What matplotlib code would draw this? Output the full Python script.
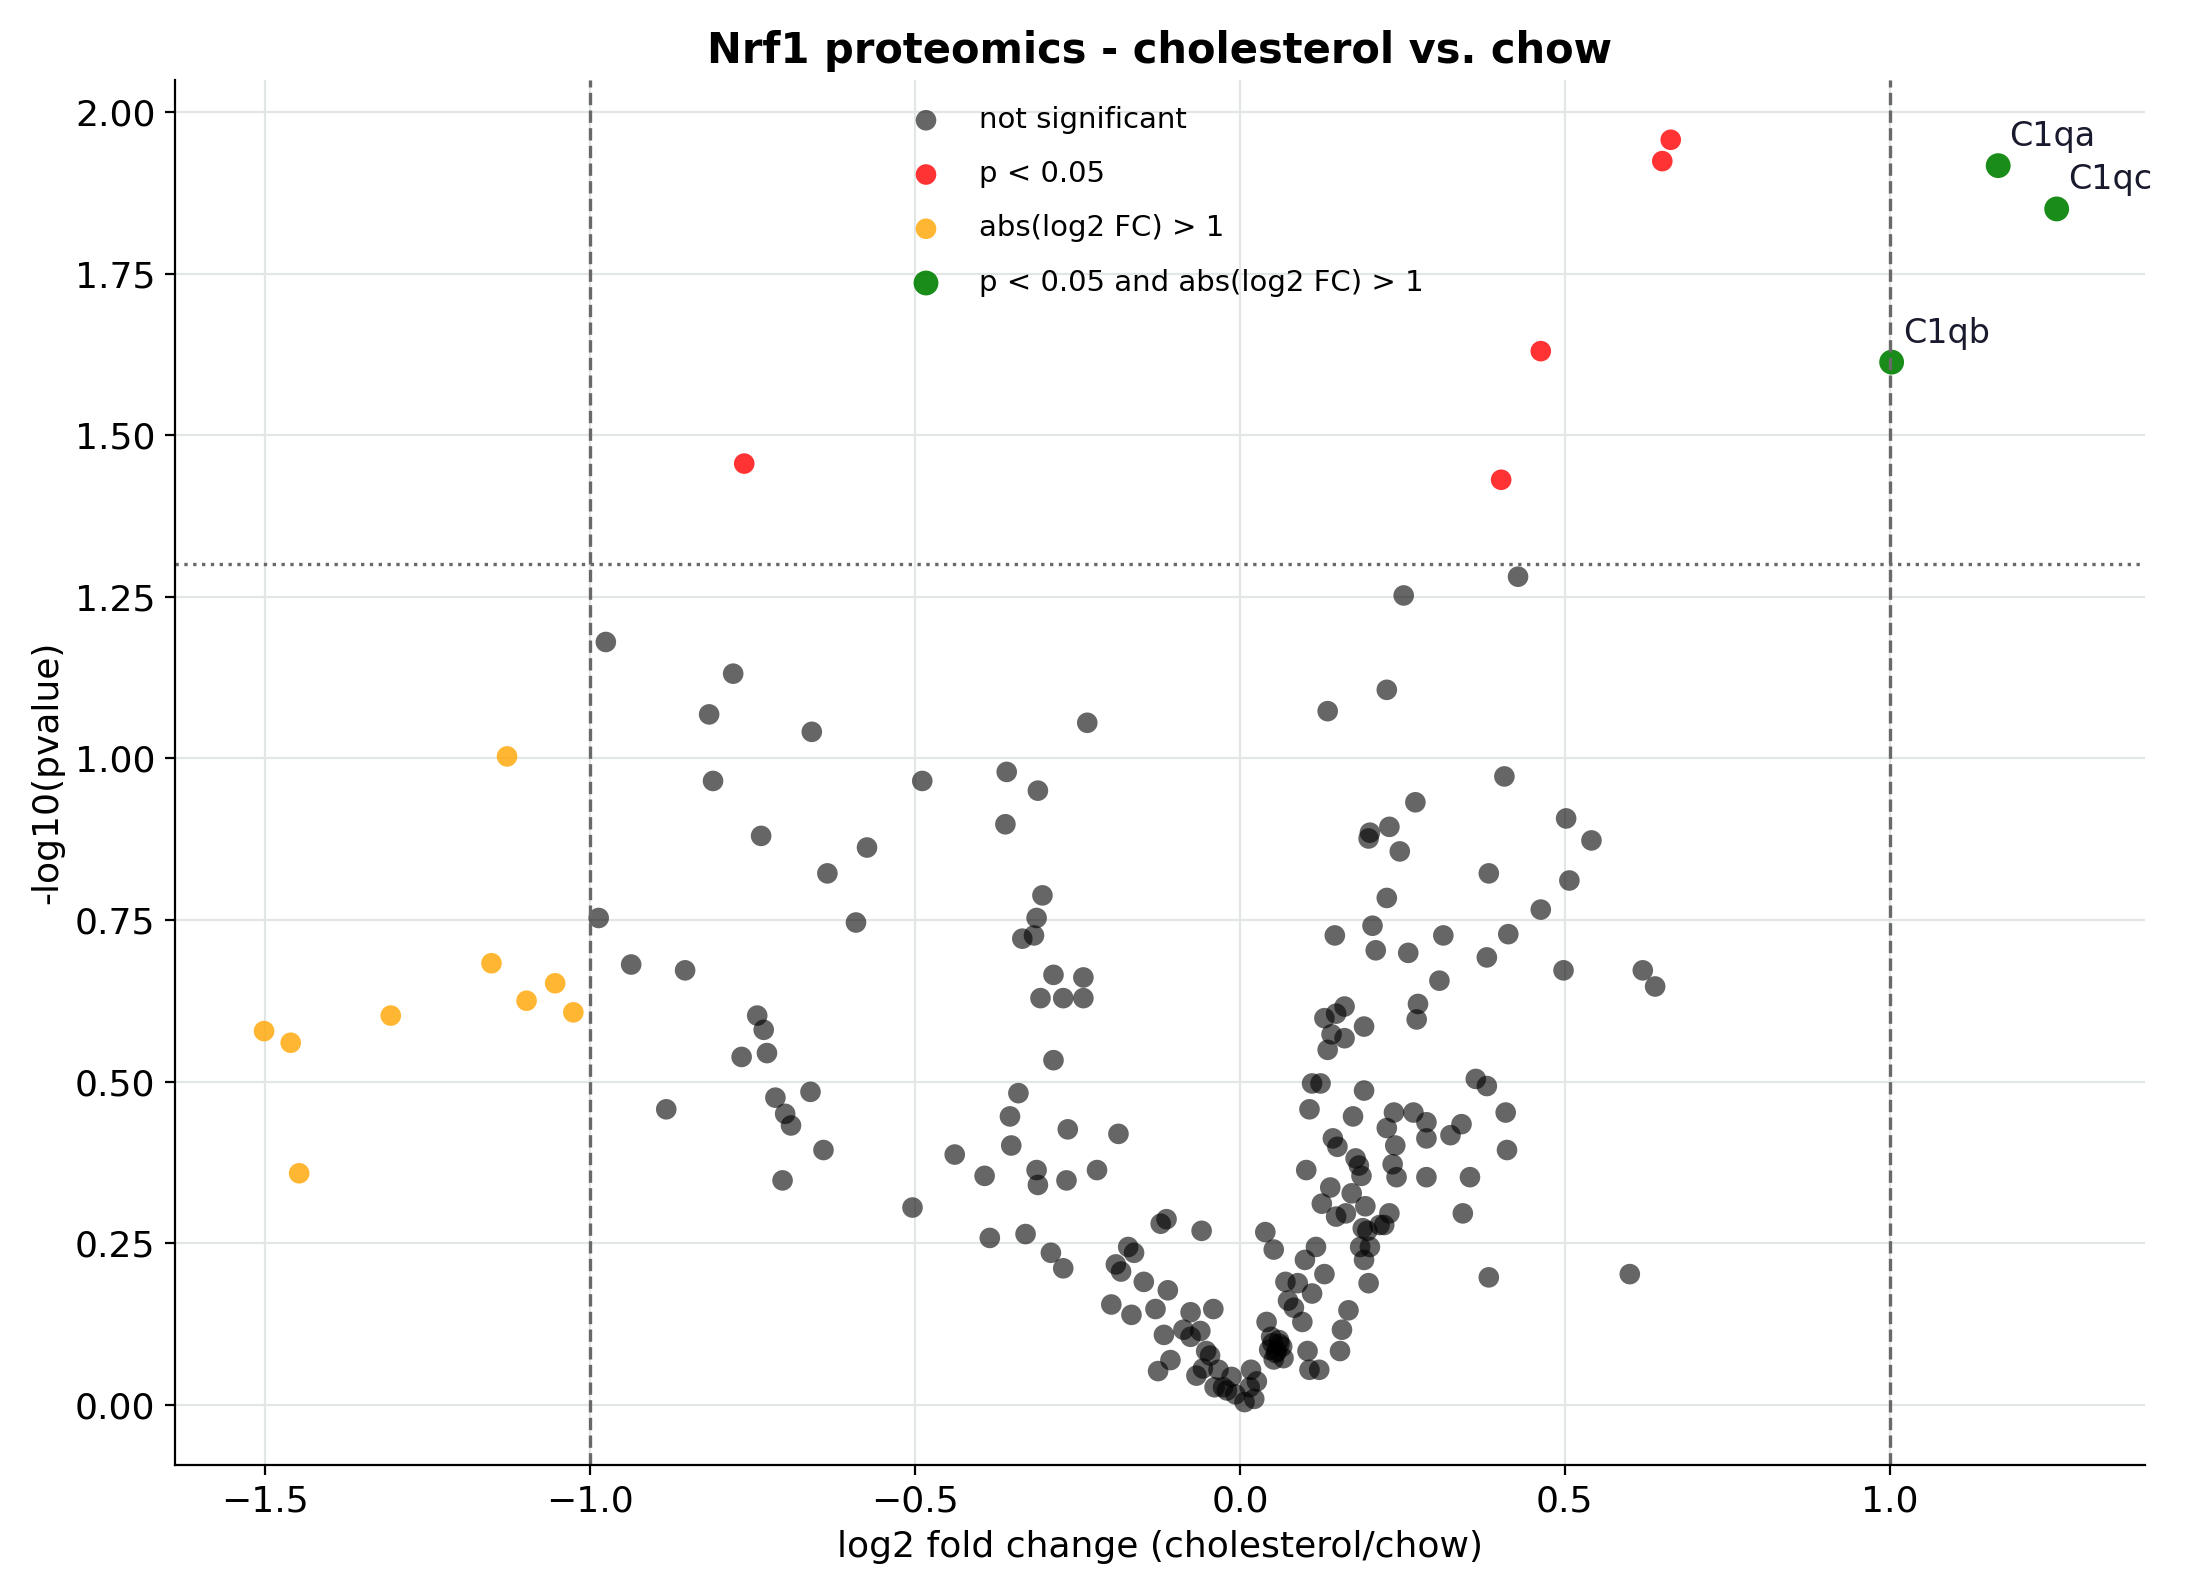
import numpy as np
import matplotlib
matplotlib.use('Agg')
import matplotlib.pyplot as plt

# not significant
ns_x = [-0.976, -0.987, -0.937, -0.883, -0.854, -0.817, -0.811, -0.780, -0.737, -0.659,
        -0.635, -0.574, -0.591, -0.767, -0.743, -0.733, -0.728, -0.715, -0.700, -0.691,
        -0.704, -0.661, -0.641, -0.489, -0.504, -0.439, -0.393, -0.385, -0.359, -0.361,
        -0.354, -0.352, -0.341, -0.335, -0.317, -0.313, -0.304, -0.311, -0.307, -0.313,
        -0.311, -0.330, -0.291, -0.287, -0.272, -0.287, -0.272, -0.265, -0.267, -0.241,
        -0.241, -0.235, -0.220, -0.187, -0.198, -0.191, -0.183, -0.172, -0.163, -0.167,
        -0.148, -0.130, -0.122, -0.113, -0.111, -0.126, -0.117, -0.107, -0.087, -0.076,
        -0.076, -0.061, -0.059, -0.052, -0.041, -0.067, -0.057, -0.046, -0.039, -0.026,
        -0.033, -0.020, -0.013, -0.007, 0.007, 0.015, 0.017, 0.026, 0.022,
        0.041, 0.039, 0.052, 0.048, 0.057, 0.061, 0.067, 0.070, 0.074, 0.083,
        0.089, 0.096, 0.100, 0.104, 0.111, 0.107, 0.122, 0.102, 0.107, 0.111,
        0.124, 0.117, 0.126, 0.130, 0.139, 0.130, 0.135, 0.135, 0.141, 0.148,
        0.143, 0.150, 0.146, 0.148, 0.157, 0.154, 0.161, 0.161, 0.163, 0.167,
        0.172, 0.174, 0.178, 0.183, 0.187, 0.193, 0.189, 0.185, 0.196, 0.191,
        0.200, 0.198, 0.191, 0.191, 0.200, 0.198, 0.204, 0.209, 0.215, 0.222,
        0.226, 0.226, 0.226, 0.230, 0.230, 0.235, 0.237, 0.239, 0.241, 0.246,
        0.252, 0.259, 0.270, 0.267, 0.274, 0.272, 0.287, 0.287, 0.287, 0.307,
        0.313, 0.324, 0.341, 0.343, 0.354, 0.363, 0.380, 0.380, 0.383, 0.383,
        0.407, 0.409, 0.411, 0.413, 0.428, 0.463, 0.498, 0.502, 0.507, 0.541,
        0.600, 0.620, 0.639, 0.045, 0.050, 0.055, 0.060, 0.052, 0.065]
ns_y = [1.180, 0.753, 0.681, 0.457, 0.672, 1.068, 0.965, 1.131, 0.880, 1.041,
        0.822, 0.862, 0.746, 0.538, 0.602, 0.580, 0.544, 0.475, 0.450, 0.432,
        0.347, 0.484, 0.394, 0.965, 0.305, 0.387, 0.354, 0.258, 0.979, 0.898,
        0.446, 0.401, 0.482, 0.721, 0.726, 0.753, 0.788, 0.950, 0.629, 0.363,
        0.340, 0.264, 0.235, 0.665, 0.629, 0.533, 0.211, 0.426, 0.347, 0.629,
        0.661, 1.055, 0.363, 0.419, 0.155, 0.217, 0.206, 0.244, 0.235, 0.139,
        0.190, 0.148, 0.280, 0.287, 0.177, 0.052, 0.108, 0.069, 0.116, 0.143,
        0.105, 0.114, 0.269, 0.083, 0.148, 0.045, 0.056, 0.076, 0.027, 0.027,
        0.054, 0.022, 0.043, 0.016, 0.004, 0.027, 0.054, 0.036, 0.009,
        0.128, 0.267, 0.240, 0.105, 0.083, 0.094, 0.072, 0.190, 0.161, 0.150,
        0.188, 0.128, 0.224, 0.083, 0.172, 0.054, 0.054, 0.363, 0.457, 0.497,
        0.497, 0.244, 0.311, 0.202, 0.336, 0.598, 1.073, 0.549, 0.573, 0.605,
        0.412, 0.399, 0.726, 0.291, 0.116, 0.083, 0.616, 0.567, 0.296, 0.146,
        0.327, 0.446, 0.381, 0.370, 0.354, 0.307, 0.273, 0.244, 0.269, 0.224,
        0.244, 0.188, 0.585, 0.486, 0.885, 0.876, 0.741, 0.703, 0.278, 0.278,
        0.784, 1.106, 0.428, 0.894, 0.296, 0.372, 0.452, 0.401, 0.352, 0.856,
        1.252, 0.699, 0.932, 0.452, 0.620, 0.596, 0.437, 0.352, 0.412, 0.656,
        0.726, 0.417, 0.434, 0.296, 0.352, 0.504, 0.493, 0.692, 0.822, 0.197,
        0.972, 0.452, 0.394, 0.728, 1.281, 0.766, 0.672, 0.907, 0.811, 0.873,
        0.202, 0.672, 0.647, 0.085, 0.095, 0.080, 0.100, 0.070, 0.090]

# p < 0.05
p_x = [0.663, 0.650, 0.463, 0.402, -0.763]
p_y = [1.957, 1.924, 1.630, 1.431, 1.456]

# abs(log2 FC) > 1
fc_x = [-1.502, -1.461, -1.448, -1.307, -1.152, -1.128, -1.098, -1.054, -1.026]
fc_y = [0.578, 0.560, 0.358, 0.602, 0.683, 1.003, 0.625, 0.652, 0.607]

# both
both_x = [1.167, 1.257, 1.003]
both_y = [1.917, 1.850, 1.613]
both_labels = ['C1qa', 'C1qc', 'C1qb']

fig, ax = plt.subplots(figsize=(10.97, 7.97), dpi=200)
ax.set_axisbelow(True)
ax.grid(True, color='#e3e6e6', linewidth=0.8)

ax.scatter(ns_x, ns_y, s=55, color='black', alpha=0.6, edgecolors='none', label='not significant')
ax.scatter(p_x, p_y, s=55, color='red', alpha=0.8, edgecolors='none', label='p < 0.05')
ax.scatter(fc_x, fc_y, s=55, color='orange', alpha=0.8, edgecolors='none', label='abs(log2 FC) > 1')
ax.scatter(both_x, both_y, s=80, color='green', alpha=0.9, edgecolors='none',
           label='p < 0.05 and abs(log2 FC) > 1')
for x, y, t in zip(both_x, both_y, both_labels):
    ax.annotate(t, (x, y), xytext=(4, 7), textcoords='offset points', fontsize=12, color='#1a1a2e')

ax.axvline(-1, color='dimgray', linestyle='--', linewidth=1.2)
ax.axvline(1, color='dimgray', linestyle='--', linewidth=1.2)
ax.axhline(-np.log10(0.05), color='dimgray', linestyle=':', linewidth=1.2)

ax.set_xlim(-1.639, 1.393)
ax.set_ylim(-0.094, 2.05)
ax.spines['top'].set_visible(False)
ax.spines['right'].set_visible(False)
ax.tick_params(labelsize=13)
ax.set_xlabel('log2 fold change (cholesterol/chow)', fontsize=13)
ax.set_ylabel('-log10(pvalue)', fontsize=13)
ax.set_title('Nrf1 proteomics - cholesterol vs. chow', fontsize=15, fontweight='bold')
ax.legend(loc='upper center', frameon=False, fontsize=10.5, labelspacing=0.9)

fig.tight_layout()
fig.savefig('out.png', dpi=200)
